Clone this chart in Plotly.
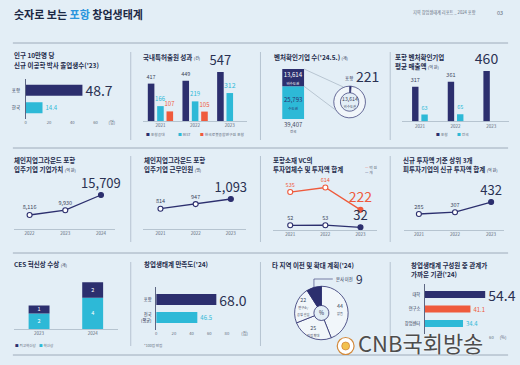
import math
import plotly.graph_objects as go

W, H = 520, 365
BG = "#e3eef6"
NAVY = "#2c2f6e"
CYAN = "#2db9d7"
ORANGE = "#ef5a3c"
TXT = "#1e2b4b"
BIG = "#2a3152"
SMALL = "#3d475c"
GRAY = "#5f6b7b"
RULE = "#8d9bac"
SEP = "#a3b2c1"
LIGHT = "#f1f6fa"
FONT = "Noto Sans CJK KR, Noto Sans, sans-serif"

# ---------------- data ----------------
p1_cats = ["포항", "한국"]
p1_vals = [48.7, 14.4]

p2_years = ["2021", "2022", "2023"]
p2_postech = [417, 449, 547]
p2_rist = [166, 219, 312]
p2_robot = [107, 105, None]
p2_names = ["포항공대", "RIST", "한국로봇융합연구원 포항"]

p3_capital = [25793]
p3_noncap = [13614]
p3_pohang = 221

p4_years = ["2021", "2022", "2023"]
p4_pohang = [317, 361, 460]
p4_nation = [63, 65, None]

p5_years = ["2022", "2023", "2024"]
p5_vals = [8116, 9930, 15709]

p6_years = ["2021", "2022", "2023"]
p6_vals = [814, 947, 1093]

p7_years = ["2021", "2022", "2023"]
p7_amount = [535, 614, 222]
p7_count = [52, 53, 32]

p8_years = ["2021", "2022", "2023"]
p8_vals = [285, 307, 432]

p9_years = ["2023", "2024"]
p9_top = [1, 2]
p9_inno = [2, 4]

p10_cats = ["포항", "전국<br>(평균)"]
p10_vals = [68.0, 46.5]

p11_labels = ["없음", "지점 확대", "연구소/<br>공장 설립", "본사 이전"]
p11_vals = [44, 25, 22, 9]

p12_cats = ["대학", "연구소", "창업센터"]
p12_vals = [54.4, 41.1, 34.4]

# ---------------- helpers ----------------
def X(x):
    return x / W

def Y(y):
    return 1 - y / H

def dx(a, b):
    return [a / W, b / W]

def dy(a, b):
    return [1 - b / H, 1 - a / H]

ann = []
shapes = []
layout = {}

def text(x, y, s, size=6.5, color=TXT, xa="left", ya="middle", bold=False, align="left"):
    if bold:
        s = "<b>" + s + "</b>"
    ann.append(dict(x=X(x), y=Y(y), xref="paper", yref="paper", text=s, showarrow=False,
                    xanchor=xa, yanchor=ya, align=align, borderpad=0,
                    font=dict(size=size, color=color, family=FONT)))

def unit(u):
    return "<span style='font-size:4px;font-weight:normal'>" + u + "</span>"

def sq(c):
    return "<span style='color:" + c + "'>■</span>"

def ln(x0, y0, x1, y1, color=RULE, w=0.8):
    shapes.append(dict(type="line", xref="paper", yref="paper", x0=X(x0), y0=Y(y0), x1=X(x1), y1=Y(y1),
                       line=dict(color=color, width=w)))

def cat_x(a, b, r, line=True):
    return dict(domain=dx(a, b), range=r, type="category", showline=line, linecolor=SEP, linewidth=0.7,
                showgrid=False, zeroline=False, ticks="", fixedrange=True,
                tickfont=dict(size=4.5, color=GRAY, family=FONT))

def hid_y(a, b, r):
    return dict(domain=dy(a, b), range=r, visible=False, fixedrange=True)

def set_axes(n, xa, ya):
    s = "" if n == 1 else str(n)
    xa["anchor"] = "y" + s
    ya["anchor"] = "x" + s
    layout["xaxis" + s] = xa
    layout["yaxis" + s] = ya

def ref(n):
    s = "" if n == 1 else str(n)
    return "x" + s, "y" + s

fig = go.Figure()

# ---------------- header ----------------
text(12, 14, "숫자로 보는 <span style='color:#2a95dd'>포항</span> 창업생태계", size=11, bold=True, color="#1b2844")
text(481, 13, "지역 창업생태계 리포트 _ 2024 포항", size=4.2, color=GRAY, xa="right")
text(508, 13, "03", size=5.5, color=GRAY, xa="right")

for yy in [43, 148, 253, 355]:
    ln(12, yy, 512, yy, RULE, 0.8)
for xx in [131, 262, 393]:
    for a, b in [(52, 140), (156, 242), (262, 346)]:
        ln(xx, a, xx, b, SEP, 0.7)

# ---------------- panel 1 ----------------
text(12, 55, "인구 10만명 당", bold=True)
text(12, 65, "신규 이공학 박사 졸업생수('23)", bold=True)
xa, ya = ref(1)
fig.add_trace(go.Bar(y=p1_cats, x=p1_vals, orientation="h", xaxis=xa, yaxis=ya, width=0.63,
                     marker=dict(color=[NAVY, CYAN], line=dict(width=0)),
                     texttemplate="%{x:.1f}", textposition="outside", cliponaxis=False,
                     constraintext="none", textangle=0,
                     textfont=dict(size=[14, 6], color=[BIG, CYAN], family=FONT),
                     showlegend=False, hoverinfo="skip"))
set_axes(1,
         dict(domain=dx(25, 113.1), range=[0, 75], tickvals=[0, 20, 40, 60, 74],
              ticktext=["0", "20", "40", "60", "(명)"], ticks="", showline=False, showgrid=False,
              zeroline=False, fixedrange=True, tickfont=dict(size=4.2, color=GRAY, family=FONT)),
         dict(domain=dy(79, 119), range=[1.65, -0.65], type="category", showline=True,
              linecolor="#3b4366", linewidth=0.8, ticks="", showgrid=False, zeroline=False,
              fixedrange=True, ticklabelstandoff=4, tickfont=dict(size=4.5, color=TXT, family=FONT)))

# ---------------- panel 2 ----------------
text(142, 57, "국내특허출원 성과 " + unit("(건)"), bold=True)
xa, ya = ref(2)
for vals, col, off, sizes, tcol in [
        (p2_postech, NAVY, -0.365, [5.5, 5.5, 13], [SMALL, SMALL, BIG]),
        (p2_rist, CYAN, -0.095, [6, 6, 7], [CYAN] * 3),
        (p2_robot, ORANGE, 0.175, [6, 6, 6], [ORANGE] * 3)]:
    fig.add_trace(go.Bar(x=p2_years, y=vals, xaxis=xa, yaxis=ya, width=0.19, offset=off,
                         marker=dict(color=col, line=dict(width=0)),
                         texttemplate="%{y}", textposition="outside", cliponaxis=False,
                         constraintext="none", textangle=0,
                         textfont=dict(size=sizes, color=tcol, family=FONT),
                         showlegend=False, hoverinfo="skip"))
set_axes(2, cat_x(143.5, 248.5, [-0.5, 2.5]), hid_y(70, 121, [0, 569]))
for xx, col, nm in [(145, NAVY, p2_names[0]), (178, CYAN, p2_names[1]), (200, ORANGE, p2_names[2])]:
    text(xx, 135, sq(col) + " " + nm, size=3.8, color=GRAY)

# ---------------- panel 3 ----------------
text(275, 57, "벤처확인기업 수('24.5.) " + unit("(개)"), bold=True)
xa, ya = ref(3)
P3_X0, P3_X1, P3_Y0, P3_Y1, P3_MAX = 275, 315, 67, 119, 41000
fig.add_trace(go.Bar(x=["전국"], y=p3_capital, base=[0], xaxis=xa, yaxis=ya, width=0.55,
                     marker=dict(color=CYAN, line=dict(width=0)),
                     text=[f"{v:,}<br><span style='font-size:3.5px'>수도권</span>" for v in p3_capital],
                     textposition="inside", insidetextanchor="middle", constraintext="none", textangle=0,
                     textfont=dict(size=6, color=NAVY, family=FONT), showlegend=False, hoverinfo="skip"))
fig.add_trace(go.Bar(x=["전국"], y=p3_noncap, base=p3_capital, xaxis=xa, yaxis=ya, width=0.55,
                     marker=dict(color=NAVY, line=dict(width=0)),
                     text=[f"{v:,}<br><span style='font-size:3.5px'>비수도권</span>" for v in p3_noncap],
                     textposition="inside", insidetextanchor="middle", constraintext="none", textangle=0,
                     textfont=dict(size=6, color="white", family=FONT), showlegend=False, hoverinfo="skip"))
set_axes(3, dict(domain=dx(P3_X0, P3_X1), range=[-0.5, 0.5], type="category", visible=False, fixedrange=True),
         hid_y(P3_Y0, P3_Y1, [0, P3_MAX]))
total = p3_capital[0] + p3_noncap[0]
cx3 = (P3_X0 + P3_X1) / 2
text(cx3, 124.5, f"{total:,}", size=6, color=SMALL, xa="center")
text(cx3, 131.5, "전국", size=3.5, color=SMALL, xa="center")

def p3y(v):
    return P3_Y1 - v / P3_MAX * (P3_Y1 - P3_Y0)

bar_right = cx3 + 0.275 * (P3_X1 - P3_X0)
PC_X, PC_Y, PC_R = 352, 102, 16
a1, a2 = math.radians(112), math.radians(212)
ln(bar_right, p3y(total), PC_X + PC_R * math.cos(a1), PC_Y - PC_R * math.sin(a1), "#9aa9b8", 0.6)
ln(bar_right, p3y(p3_capital[0]), PC_X + PC_R * math.cos(a2), PC_Y - PC_R * math.sin(a2), "#9aa9b8", 0.6)
fig.add_trace(go.Pie(values=[p3_pohang, p3_noncap[0] - p3_pohang], labels=["포항", "기타 비수도권"],
                     domain=dict(x=dx(PC_X - PC_R, PC_X + PC_R), y=dy(PC_Y - PC_R, PC_Y + PC_R)),
                     hole=0.58, sort=False, direction="clockwise", rotation=0, textinfo="none",
                     marker=dict(colors=[NAVY, LIGHT], line=dict(color=NAVY, width=0.7)),
                     showlegend=False, hoverinfo="skip"))
text(PC_X, PC_Y, f"{p3_noncap[0]:,}<br><span style='font-size:3.3px'>비수도권</span>",
     size=5.2, color=SMALL, xa="center", align="center")
text(356, 78, "포항", size=4.5, color=TXT, xa="right")
text(357, 76.5, f"{p3_pohang}", size=14, color=BIG)

# ---------------- panel 4 ----------------
text(397, 57, "포항 벤처확인기업", bold=True)
text(397, 66, "평균 매출액 " + unit("(억 원)"), bold=True)
xa, ya = ref(4)
for vals, col, off, sizes, tcol in [
        (p4_pohang, NAVY, -0.22, [5.5, 5.5, 14], [SMALL, SMALL, BIG]),
        (p4_nation, CYAN, 0.04, [5.5, 5.5, 5.5], [CYAN] * 3)]:
    fig.add_trace(go.Bar(x=p4_years, y=vals, xaxis=xa, yaxis=ya, width=0.18, offset=off,
                         marker=dict(color=col, line=dict(width=0)),
                         texttemplate="%{y}", textposition="outside", cliponaxis=False,
                         constraintext="none", textangle=0,
                         textfont=dict(size=sizes, color=tcol, family=FONT),
                         showlegend=False, hoverinfo="skip"))
set_axes(4, cat_x(405, 513, [-0.5, 2.5]), hid_y(66.5, 121.5, [0, 500]))
text(438, 135, sq(NAVY) + " 포항", size=3.8, color=GRAY)
text(459, 135, sq(CYAN) + " 전국", size=3.8, color=GRAY)

# ---------------- line panels ----------------
def line_trace(n, years, vals, col, sizes, tcols, yname=None):
    xa, ya = ref(n)
    if yname:
        ya = yname
    fig.add_trace(go.Scatter(x=years, y=vals, xaxis=xa, yaxis=ya, mode="lines+markers+text",
                             line=dict(color=col, width=1.3),
                             marker=dict(size=5, color=["white"] * (len(vals) - 1) + [col],
                                         line=dict(color=col, width=1.1)),
                             texttemplate="%{y:,}", textposition="top center", cliponaxis=False,
                             textfont=dict(size=sizes, color=tcols, family=FONT),
                             showlegend=False, hoverinfo="skip"))

# panel 5
text(12, 160, "체인지업그라운드 포항", bold=True)
text(12, 169, "입주기업 기업가치 " + unit("(억 원)"), bold=True)
line_trace(5, p5_years, p5_vals, NAVY, [5.5, 5.5, 13], [SMALL, SMALL, BIG])
set_axes(5, cat_x(13, 115, [-0.44, 2.39]), hid_y(180, 229, [2793, 21412]))

# panel 6
text(143, 160, "체인지업그라운드 포항", bold=True)
text(143, 169, "입주기업 근무인원 " + unit("(명)"), bold=True)
line_trace(6, p6_years, p6_vals, NAVY, [5.5, 5.5, 13], [SMALL, SMALL, BIG])
set_axes(6, cat_x(143, 247, [-0.507, 2.42]), hid_y(180, 229, [231, 1639]))

# panel 7
text(274, 160, "포항소재 VC의", bold=True)
text(274, 169, "투자업체수 및 투자액 합계", bold=True)
line_trace(7, p7_years, p7_amount, ORANGE, [5.5, 5.5, 14], [ORANGE] * 3)
line_trace(7, p7_years, p7_count, NAVY, [5.5, 5.5, 13], [SMALL, SMALL, BIG], yname="y13")
set_axes(7, cat_x(275, 380, [-0.48, 2.48]), hid_y(180, 230, [-132, 746]))
layout["yaxis13"] = dict(overlaying="y7", anchor="x7", range=[5, 505], visible=False, fixedrange=True)
text(367, 167, "<span style='color:" + ORANGE + "'>—</span> 억 원", size=3.8, color=GRAY)
text(367, 173, "<span style='color:" + NAVY + "'>—</span> 개", size=3.8, color=GRAY)

# panel 8
text(405, 160, "신규 투자액 기준 상위 3개", bold=True)
text(405, 169, "피투자기업의 신규 투자액 합계 " + unit("(억 원)"), bold=True)
line_trace(8, p8_years, p8_vals, NAVY, [5.5, 5.5, 13], [SMALL, SMALL, BIG])
set_axes(8, cat_x(407, 508, [-0.41, 2.36]), hid_y(180, 230, [89, 702]))

# ---------------- panel 9 ----------------
text(12, 264, "CES 혁신상 수상 " + unit("(개)"), bold=True)
xa, ya = ref(9)
fig.add_trace(go.Bar(x=p9_years, y=p9_inno, base=[0] * len(p9_inno), xaxis=xa, yaxis=ya, width=0.39,
                     marker=dict(color=CYAN, line=dict(width=0)), text=p9_inno,
                     textposition="inside", insidetextanchor="middle", constraintext="none", textangle=0,
                     textfont=dict(size=5.5, color="white", family=FONT), showlegend=False, hoverinfo="skip"))
fig.add_trace(go.Bar(x=p9_years, y=p9_top, base=p9_inno, xaxis=xa, yaxis=ya, width=0.39,
                     marker=dict(color=NAVY, line=dict(width=0)), text=p9_top,
                     textposition="inside", insidetextanchor="middle", constraintext="none", textangle=0,
                     textfont=dict(size=5.5, color="white", family=FONT), showlegend=False, hoverinfo="skip"))
set_axes(9, cat_x(13, 118, [-0.47, 1.47]), hid_y(279, 329, [0, 6.4]))
text(13, 345, sq(NAVY) + " 최고혁신상", size=3.6, color=GRAY)
text(37, 345, sq(CYAN) + " 혁신상", size=3.6, color=GRAY)

# ---------------- panel 10 ----------------
text(143, 264, "창업생태계 만족도('24)", bold=True)
xa, ya = ref(10)
fig.add_trace(go.Bar(y=p10_cats, x=p10_vals, orientation="h", xaxis=xa, yaxis=ya, width=0.61,
                     marker=dict(color=[NAVY, CYAN], line=dict(width=0)),
                     texttemplate="%{x:.1f}", textposition="outside", cliponaxis=False,
                     constraintext="none", textangle=0,
                     textfont=dict(size=[14, 6], color=[BIG, CYAN], family=FONT),
                     showlegend=False, hoverinfo="skip"))
set_axes(10,
         dict(domain=dx(156.7, 246), range=[0, 100], tickvals=[0, 20, 40, 60, 80, 100],
              ticktext=["0", "20", "40", "60", "80", "(점)"], ticks="", showline=False, showgrid=False,
              zeroline=False, fixedrange=True, tickfont=dict(size=4.2, color=GRAY, family=FONT)),
         dict(domain=dy(286.9, 330.1), range=[1.7, -0.7], type="category", showline=True,
              linecolor="#3b4366", linewidth=0.8, ticks="", showgrid=False, zeroline=False,
              fixedrange=True, ticklabelstandoff=3, tickfont=dict(size=4.2, color=TXT, family=FONT)))
text(143, 345, "*100점 만점", size=3.6, color=GRAY)

# ---------------- panel 11 ----------------
text(273, 265, "타 지역 이전 및 확대 계획('24)", bold=True)
PX, PY, PR = 323.5, 313, 27
fig.add_trace(go.Pie(values=p11_vals, labels=p11_labels,
                     domain=dict(x=dx(PX - PR, PX + PR), y=dy(PY - PR, PY + PR)),
                     hole=0.28, sort=False, direction="clockwise", rotation=0, textinfo="none",
                     marker=dict(colors=[LIGHT, LIGHT, LIGHT, NAVY], line=dict(color=NAVY, width=0.8)),
                     showlegend=False, hoverinfo="skip"))
text(PX, PY, "%", size=5.5, color=TXT, xa="center")
tot11 = sum(p11_vals)
cum = 0
for lab, v in zip(p11_labels, p11_vals):
    mid = (cum + v / 2) / tot11 * 2 * math.pi
    cum += v
    if lab == p11_labels[-1]:
        ex, ey = PX + PR * math.sin(mid), PY - PR * math.cos(mid)
        shapes.append(dict(type="path", xref="paper", yref="paper",
                           path=f"M {X(ex)} {Y(ey)} L {X(ex)} {Y(279)} L {X(335)} {Y(279)}",
                           line=dict(color=NAVY, width=0.6)))
        text(337, 279.5, lab, size=4.3, color=TXT)
        text(357, 278.5, str(v), size=12, color=BIG)
        continue
    r = 0.72 * PR
    lx, ly = PX + r * math.sin(mid), PY - r * math.cos(mid)
    text(lx, ly, f"{v}<br><span style='font-size:3.2px'>{lab}</span>", size=5.3, color=SMALL,
         xa="center", align="center")

# ---------------- panel 12 ----------------
text(413, 265, "창업생태계 구성원 중 관계가", bold=True)
text(413, 274, "가까운 기관('24)", bold=True)
xa, ya = ref(12)
fig.add_trace(go.Bar(y=p12_cats, x=p12_vals, orientation="h", xaxis=xa, yaxis=ya, width=0.48,
                     marker=dict(color=[NAVY, ORANGE, CYAN], line=dict(width=0)),
                     texttemplate="%{x:.1f}", textposition="outside", cliponaxis=False,
                     constraintext="none", textangle=0,
                     textfont=dict(size=[14, 6, 6], color=[BIG, ORANGE, CYAN], family=FONT),
                     showlegend=False, hoverinfo="skip"))
# ticks 0-40 of this axis are hidden under the broadcaster watermark in the reference
set_axes(12,
         dict(domain=dx(428, 508.6), range=[0, 72], tickvals=[60, 70.5],
              ticktext=["60", "(%)"], ticks="", showline=False, showgrid=False,
              zeroline=False, fixedrange=True, tickfont=dict(size=4.2, color=GRAY, family=FONT)),
         dict(domain=dy(284.35, 333.65), range=[2.7, -0.7], type="category", showline=True,
              linecolor="#3b4366", linewidth=0.8, ticks="", showgrid=False, zeroline=False,
              fixedrange=True, ticklabelstandoff=3, tickfont=dict(size=4.2, color=TXT, family=FONT)))

# ---------------- watermark ----------------
shapes.append(dict(type="circle", xref="paper", yref="paper", x0=X(339.5), x1=X(356.5), y0=Y(354.5), y1=Y(337.5),
                   fillcolor="white", line=dict(color="#d28a3c", width=1.2)))
shapes.append(dict(type="circle", xref="paper", yref="paper", x0=X(344), x1=X(352), y0=Y(350), y1=Y(342),
                   fillcolor="#f2c14e", line=dict(color="#c9702e", width=0.6)))
ann.append(dict(x=X(359), y=Y(341.5), xref="paper", yref="paper", showarrow=False, text="CNB국회방송",
                xanchor="left", yanchor="middle", borderpad=0,
                font=dict(size=22, color="#4d4d4d", family=FONT, shadow="0px 0px 2px #ffffff")))

fig.update_layout(width=W, height=H, margin=dict(l=0, r=0, t=0, b=0), autosize=False,
                  paper_bgcolor=BG, plot_bgcolor="rgba(0,0,0,0)", barmode="overlay",
                  font=dict(family=FONT, color=TXT), annotations=ann, shapes=shapes,
                  showlegend=False, **layout)
fig.write_html("out.html", config={"displayModeBar": False, "staticPlot": True},
               post_script="document.body.style.margin='0';document.body.style.padding='0';"
                           "document.body.style.overflow='hidden';")
